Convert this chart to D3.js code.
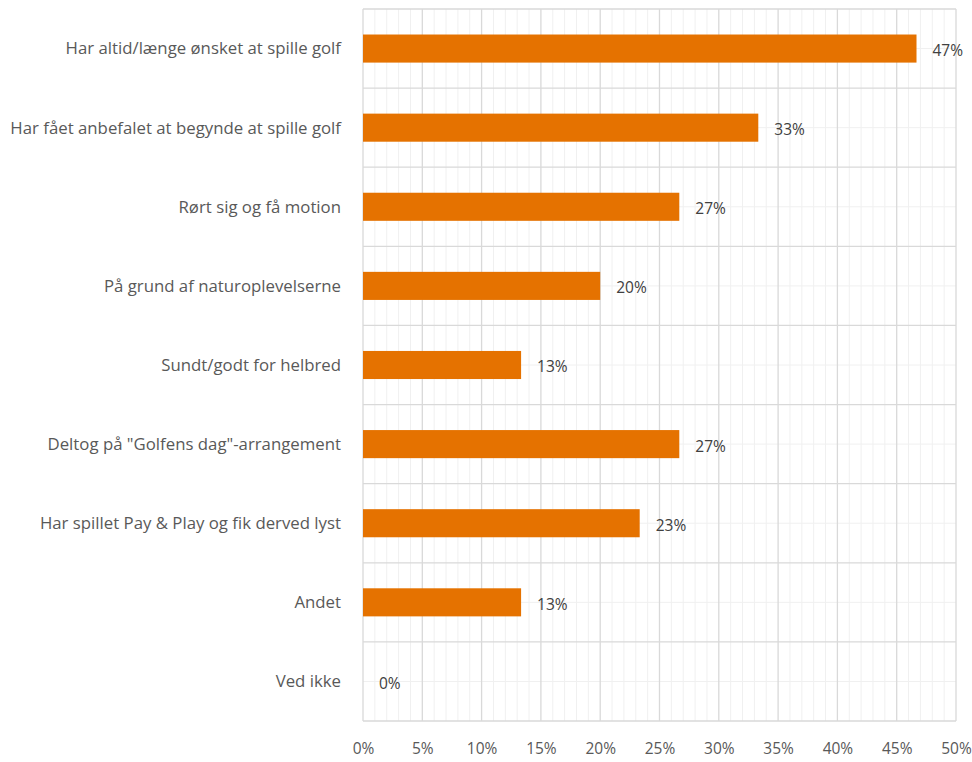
<!DOCTYPE html>
<html><head><meta charset="utf-8">
<script src="https://cdn.jsdelivr.net/npm/d3@7"></script>
<style>html,body{margin:0;padding:0;background:#fff;}svg{display:block;}</style>
</head><body>
<svg id="c" width="972" height="762"></svg>
<script>
const categories = [
  "Har altid/længe ønsket at spille golf",
  "Har fået anbefalet at begynde at spille golf",
  "Rørt sig og få motion",
  "På grund af naturoplevelserne",
  "Sundt/godt for helbred",
  "Deltog på \"Golfens dag\"-arrangement",
  "Har spillet Pay & Play og fik derved lyst",
  "Andet",
  "Ved ikke"
];
const values = [46.67, 33.33, 26.67, 20.0, 13.33, 26.67, 23.33, 13.33, 0];
const valueLabels = ["47%", "33%", "27%", "20%", "13%", "27%", "23%", "13%", "0%"];
const xTicks = [0, 5, 10, 15, 20, 25, 30, 35, 40, 45, 50];

const svg = d3.select("#c");
const m = {l: 363, r: 956, t: 9, b: 721};
const font = "'Open Sans', 'Noto Sans', sans-serif";

const x = d3.scaleLinear().domain([0, 50]).range([m.l, m.r]);
const y = d3.scaleBand().domain(categories).range([m.t, m.b]).paddingInner(0).paddingOuter(0);

const g = svg.append("g");
g.selectAll("line.vmin").data(d3.range(0, 51, 1).filter(v => v % 5 !== 0)).join("line")
  .attr("x1", d => x(d)).attr("x2", d => x(d)).attr("y1", m.t).attr("y2", m.b)
  .attr("stroke", "#f0f0f0").attr("stroke-width", 1);
g.selectAll("line.hmin").data(categories).join("line")
  .attr("x1", m.l).attr("x2", m.r)
  .attr("y1", d => y(d) + y.bandwidth() / 2).attr("y2", d => y(d) + y.bandwidth() / 2)
  .attr("stroke", "#f0f0f0").attr("stroke-width", 1);
g.selectAll("line.vmaj").data(xTicks).join("line")
  .attr("x1", d => x(d)).attr("x2", d => x(d)).attr("y1", m.t).attr("y2", m.b)
  .attr("stroke", "#d9d9d9").attr("stroke-width", 1.3);
const bounds = categories.map(c => y(c)).concat([m.b]);
g.selectAll("line.hmaj").data(bounds).join("line")
  .attr("x1", m.l).attr("x2", m.r).attr("y1", d => d).attr("y2", d => d)
  .attr("stroke", "#d9d9d9").attr("stroke-width", 1.3);

const bh = y.bandwidth() * 0.355;
svg.selectAll("rect.bar").data(values).join("rect")
  .attr("x", x(0))
  .attr("y", (d, i) => y(categories[i]) + y.bandwidth() / 2 - bh / 2)
  .attr("width", d => x(d) - x(0))
  .attr("height", bh)
  .attr("fill", "#e57200");

svg.selectAll("text.val").data(values).join("text")
  .attr("x", d => x(d) + 16)
  .attr("y", (d, i) => y(categories[i]) + y.bandwidth() / 2 + 2)
  .attr("dy", "0.35em")
  .attr("font-family", font).attr("font-size", 15.5).attr("fill", "#404040")
  .text((d, i) => valueLabels[i]);

const cats = svg.selectAll("text.cat").data(categories).join("text")
  .attr("x", 341)
  .attr("y", d => y(d) + y.bandwidth() / 2)
  .attr("dy", "0.35em")
  .attr("text-anchor", "end")
  .attr("font-family", font).attr("font-size", 15).attr("fill", "#595959")
  .text(d => d);
const longest = d3.max(cats.nodes(), n => n.getComputedTextLength());
if (longest > 0) cats.attr("font-size", 15 * 331 / longest);

const xAxis = svg.append("g").attr("transform", `translate(0,${m.b})`)
  .call(d3.axisBottom(x).tickValues(xTicks).tickFormat(d => d + "%").tickSize(0).tickPadding(22));
xAxis.select(".domain").remove();
xAxis.selectAll("text").attr("font-family", font).attr("font-size", 15.5).attr("fill", "#595959");
</script>
</body></html>
